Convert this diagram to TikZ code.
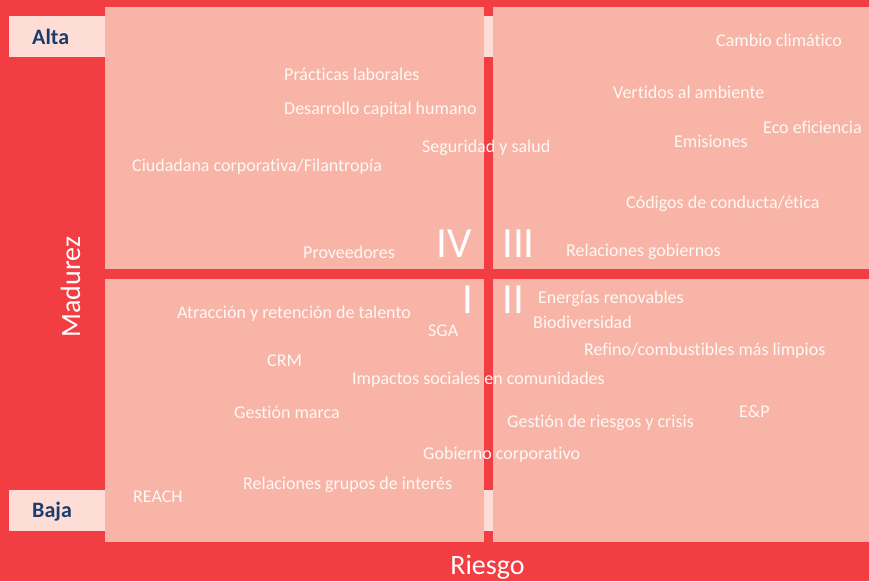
\documentclass[tikz,border=0pt]{standalone}
\usepackage{fontspec}
\setmainfont{Carlito}[Ligatures={NoCommon}]
\definecolor{bgred}{HTML}{F23D43}
\definecolor{salmon}{HTML}{F8B4A7}
\definecolor{lightpink}{HTML}{FDDDD6}
\definecolor{navy}{HTML}{1A3D6D}
\definecolor{txt}{HTML}{FFF8F5}
\tikzset{
  quad/.style={fill=salmon, draw=none},
  tab/.style={fill=lightpink, draw=none},
  item/.style={anchor=base west, inner sep=0pt, text=txt, font=\fontsize{18}{21}\selectfont},
  roman/.style={anchor=base west, inner sep=0pt, text=white, font=\fontsize{43}{48}\selectfont},
  level/.style={anchor=base west, inner sep=0pt, text=navy, font=\fontsize{22}{26}\selectfont\bfseries},
  axis/.style={anchor=base, inner sep=0pt, text=white, font=\fontsize{28}{32}\selectfont},
}
\begin{document}
\begin{tikzpicture}[x=1pt,y=-1pt]
\useasboundingbox (0,0) rectangle (869,581);
\fill[bgred] (0,0) rectangle (869,581);
% quadrants
\fill[quad] (105,7) rectangle (484,269);
\fill[quad] (493,7) rectangle (869,269);
\fill[quad] (105,279) rectangle (484,542);
\fill[quad] (493,279) rectangle (869,542);
% tabs
\fill[tab] (9,16) rectangle (105,57);
\fill[tab] (484,16) rectangle (493,57);
\fill[tab] (9,490) rectangle (105,531);
\fill[tab] (484,490) rectangle (493,531);
% level labels
\node[level] (alta) at (32,44) {Alta};
\node[level] (baja) at (32,517) {Baja};
% axes
\node[axis, rotate=90] (madurez) at (80,287) {Madurez};
\node[axis] (riesgo) at (487.5,574) {Riesgo};
% roman numerals
\node[roman] (q4) at (436,257) {IV};
\node[roman] (q3) at (502,257) {III};
\node[roman] (q1) at (462,313) {I};
\node[roman] (q2) at (502,313) {II};
% items
\node[item] (n1) at (716,46) {Cambio climático};
\node[item] (n2) at (284,80) {Prácticas laborales};
\node[item] (n3) at (613,98) {Vertidos al ambiente};
\node[item] (n4) at (284,114) {Desarrollo capital humano};
\node[item] (n5) at (763,133) {Eco eficiencia};
\node[item] (n6) at (674,147) {Emisiones};
\node[item] (n7) at (422,152) {Seguridad y salud};
\node[item] (n8) at (132,171) {Ciudadana corporativa/Filantropía};
\node[item] (n9) at (626,208) {Códigos de conducta/ética};
\node[item] (n10) at (303,258) {Proveedores};
\node[item] (n11) at (566,256) {Relaciones gobiernos};
\node[item] (n12) at (538,303) {Energías renovables};
\node[item] (n13) at (177,318) {Atracción y retención de talento};
\node[item] (n14) at (533,328) {Biodiversidad};
\node[item] (n15) at (428,336) {SGA};
\node[item] (n16) at (584,355) {Refino/combustibles más limpios};
\node[item] (n17) at (267,366) {CRM};
\node[item] (n18) at (352,384) {Impactos sociales en comunidades};
\node[item] (n19) at (234,418) {Gestión marca};
\node[item] (n20) at (739,417) {E\&P};
\node[item] (n21) at (507,427) {Gestión de riesgos y crisis};
\node[item] (n22) at (423,459) {Gobierno corporativo};
\node[item] (n23) at (243,489) {Relaciones grupos de interés};
\node[item] (n24) at (133,502) {REACH};
\end{tikzpicture}
\end{document}
